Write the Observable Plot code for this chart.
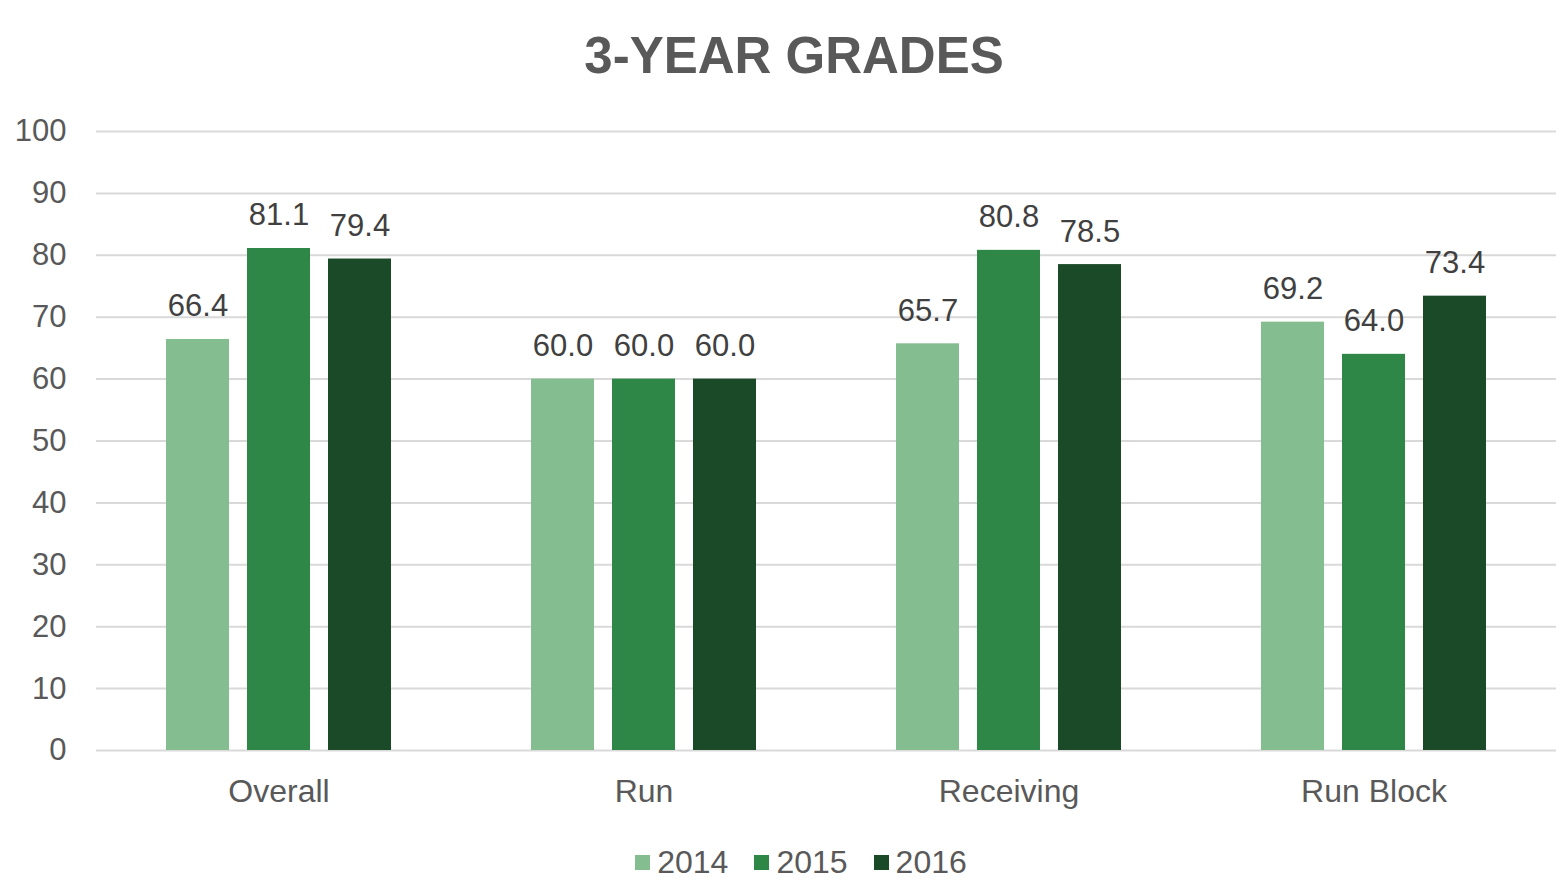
<!DOCTYPE html>
<html>
<head>
<meta charset="utf-8">
<script src="https://cdn.jsdelivr.net/npm/d3@7"></script>
<script src="https://cdn.jsdelivr.net/npm/@observablehq/plot@0.6"></script>
<style>
  body { margin: 0; background: #fff; font-family: "Liberation Sans", Arial, sans-serif; }
  #title { height: 100px; box-sizing: border-box; padding-top: 31px; padding-left: 22px; text-align: center;
           font-size: 51px; line-height: 50px; font-weight: bold; color: #595959; }
  #legend { display: flex; justify-content: center; align-items: center; margin-top: 22px; height: 40px; padding-left: 36px;
            font-size: 32px; color: #595959; }
  .item { display: flex; align-items: center; margin: 0 13px; }
  .sw { width: 15px; height: 15px; margin-right: 7px; }
</style>
</head>
<body>
<div id="title">3-YEAR GRADES</div>
<div id="chart"></div>
<div id="legend"></div>
<script>
const categories = ["Overall", "Run", "Receiving", "Run Block"];
const years = ["2014", "2015", "2016"];
const v2014 = [66.4, 60.0, 65.7, 69.2];
const v2015 = [81.1, 60.0, 80.8, 64.0];
const v2016 = [79.4, 60.0, 78.5, 73.4];
const yTicks = [0, 10, 20, 30, 40, 50, 60, 70, 80, 90, 100];
const colors = ["#84BD8F", "#2F8747", "#1B4A28"];

const series = [v2014, v2015, v2016];
const data = [];
categories.forEach((c, i) => years.forEach((y, j) => data.push({cat: c, year: y, v: series[j][i]})));

const chart = Plot.plot({
  width: 1566,
  height: 720,
  marginTop: 31,
  marginBottom: 70,
  marginLeft: 95,
  marginRight: 10,
  style: {fontFamily: "'Liberation Sans', Arial, sans-serif", fontSize: "31px", color: "#595959", background: "#fff"},
  fx: {domain: categories, padding: 0, label: null, tickSize: 0, tickPadding: 29},
  x: {domain: years, paddingInner: 0.22, paddingOuter: 0.86, axis: null},
  y: {domain: [0, 100], ticks: yTicks, tickSize: 0, tickPadding: 30, label: null},
  color: {domain: years, range: colors},
  marks: [
    Plot.ruleY(yTicks, {stroke: "#D9D9D9", strokeWidth: 2}),
    Plot.barY(data, {fx: "cat", x: "year", y: "v", fill: "year"}),
    Plot.text(data, {fx: "cat", x: "year", y: "v", text: d => d.v.toFixed(1), dy: -23, lineAnchor: "bottom",
                     fontSize: 31, fill: "#404040"})
  ]
});
document.getElementById("chart").appendChild(chart);
chart.querySelectorAll("g[aria-label='fx-axis tick label'] text, g[aria-label='fx-axis tick label']").forEach(e => e.setAttribute("font-size", 32));

const legend = document.getElementById("legend");
years.forEach((y, i) => {
  const it = document.createElement("div");
  it.className = "item";
  it.innerHTML = `<span class="sw" style="background:${colors[i]}"></span><span>${y}</span>`;
  legend.appendChild(it);
});
</script>
</body>
</html>
